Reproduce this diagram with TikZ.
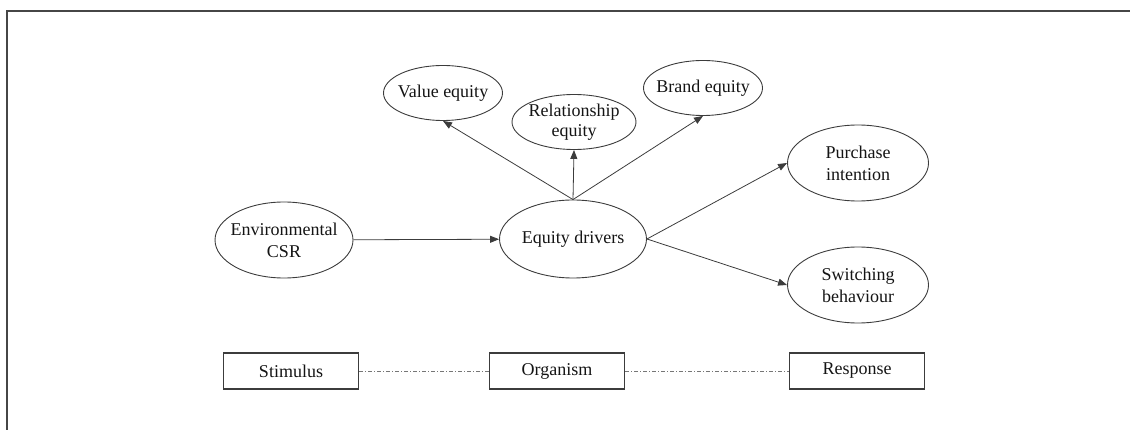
\documentclass[tikz,border=0pt]{standalone}
\usepackage{fontspec}
\setmainfont{Liberation Serif}
\usepackage{xcolor}
\definecolor{ink}{RGB}{20,20,20}
\definecolor{edge}{RGB}{60,60,60}
\definecolor{frame}{RGB}{70,70,70}
\usepackage{tikz}
\usetikzlibrary{
    shapes.geometric,
    arrows.meta,
    positioning
}

\begin{document}
\begin{tikzpicture}[
        x=1pt, y=-1pt,
        construct/.style={ellipse, draw=edge, line width=0.9pt, inner xsep=-10pt, inner ysep=0pt, minimum width=#1, minimum height=55pt, align=center, text=ink, font=\fontsize{18}{22}\selectfont},
        bigconstruct/.style={construct=#1, minimum height=76pt},
        stage/.style={rectangle, draw=edge, line width=1.4pt, minimum width=135pt, minimum height=36pt, inner sep=0pt, text=ink, font=\fontsize{18}{22}\selectfont},
        arrow/.style={-{Triangle[length=9pt, width=7pt]}, line width=0.8pt, color=edge},
        link/.style={line width=0.7pt, color=edge!70, dash pattern=on 4pt off 2pt on 1pt off 2pt}
    ]
        \useasboundingbox (0,0) rectangle (1130,430);
        \draw[frame, line width=1.5pt] (7,430) -- (7,11) -- (1130,11);

        \node[bigconstruct=138pt] (envcsr) at (284,240) {Environmental\\CSR};
        \node[bigconstruct=147pt, minimum height=78pt] (drivers) at (573,239) {Equity drivers};
        \node[construct=119pt] (value) at (443,93) {Value equity};
        \node[construct=124pt] (relation) at (574,122) {Relationship\\[-2pt]equity};
        \node[construct=119pt] (brand) at (703,88) {Brand equity};
        \node[bigconstruct=141pt] (purchase) at (858,163) {Purchase\\intention};
        \node[bigconstruct=141pt] (switching) at (858,285) {Switching\\behaviour};

        \node[stage] (stimulus) at (291,371) {Stimulus};
        \node[stage] (organism) at (557,371) {Organism};
        \node[stage] (response) at (857,371) {Response};

        \draw[arrow] (envcsr) -- (drivers);
        \draw[arrow] (drivers.north) -- (value.south);
        \draw[arrow] (drivers.north) -- (relation.south);
        \draw[arrow] (drivers.north) -- (brand.south);
        \draw[arrow] (drivers.east) -- (purchase.west);
        \draw[arrow] (drivers.east) -- (switching.west);

        \draw[link] (stimulus) -- (organism);
        \draw[link] (organism) -- (response);
    \end{tikzpicture}
\end{document}
